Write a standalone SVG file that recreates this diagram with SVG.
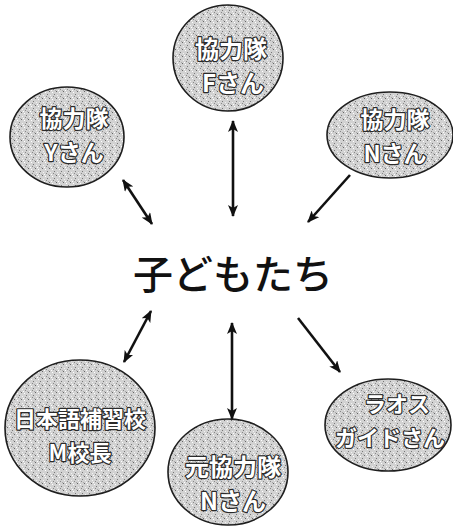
<svg xmlns="http://www.w3.org/2000/svg" width="453" height="529" viewBox="0 0 453 529">
<style>
.node ellipse{fill:url(#stip);stroke:#1e1e1e;stroke-width:1.6}
.node text{font-family:"Noto Sans CJK JP","Noto Sans",sans-serif;font-weight:bold;fill:#fff;stroke:#2a2a2a;stroke-width:2.4;paint-order:stroke;stroke-linejoin:round;text-anchor:middle;dominant-baseline:central}
.center{font-family:"Noto Sans CJK JP","Noto Sans",sans-serif;font-weight:500;font-size:40px;fill:#111;text-anchor:middle;dominant-baseline:central}
#connectors line{stroke:#111;stroke-width:2.6}
</style>
<defs>
<pattern id="stip" width="7" height="7" patternUnits="userSpaceOnUse">
<rect width="7" height="7" fill="#d2d2d2"/>
<rect x="0" y="0" width="1" height="1" fill="#666"/>
<rect x="3" y="1" width="1" height="1" fill="#fff"/>
<rect x="5" y="3" width="1" height="1" fill="#777"/>
<rect x="1" y="4" width="1" height="1" fill="#f2f2f2"/>
<rect x="4" y="5" width="1" height="1" fill="#888"/>
<rect x="2" y="6" width="1" height="1" fill="#fff"/>
<rect x="6" y="6" width="1" height="1" fill="#aaa"/>
</pattern>
<marker id="ah" viewBox="0 0 12 10" refX="11" refY="5" markerWidth="12" markerHeight="10" markerUnits="userSpaceOnUse" orient="auto-start-reverse">
<path d="M0,0 L12,5 L0,10 L3,5 Z" fill="#111"/>
</marker>
</defs>

<g id="connectors">
<line x1="233" y1="121" x2="233" y2="216" marker-start="url(#ah)" marker-end="url(#ah)"/>
<line x1="123" y1="180" x2="152" y2="224" marker-start="url(#ah)" marker-end="url(#ah)"/>
<line x1="350" y1="175" x2="308" y2="222" marker-end="url(#ah)"/>
<line x1="151" y1="311" x2="124" y2="362" marker-start="url(#ah)" marker-end="url(#ah)"/>
<line x1="232" y1="323" x2="232" y2="419" marker-start="url(#ah)" marker-end="url(#ah)"/>
<line x1="298" y1="318" x2="340" y2="372" marker-end="url(#ah)"/>
</g>

<g id="node-f" class="node">
<ellipse cx="228" cy="58" rx="55" ry="53"/>
<text x="231" y="47" font-size="24">協力隊</text>
<text x="233" y="81" font-size="24">Fさん</text>
</g>

<g id="node-y" class="node">
<ellipse cx="67" cy="137" rx="57" ry="50"/>
<text x="74" y="117" font-size="23">協力隊</text>
<text x="74" y="151" font-size="23">Yさん</text>
</g>

<g id="node-n" class="node">
<ellipse cx="390" cy="135" rx="63" ry="43"/>
<text x="395" y="118" font-size="23">協力隊</text>
<text x="395" y="152" font-size="23">Nさん</text>
</g>

<g id="node-center">
<text class="center" x="233" y="272">子どもたち</text>
</g>

<g id="node-m" class="node">
<ellipse cx="80" cy="428" rx="75" ry="68"/>
<text x="80" y="417" font-size="22">日本語補習校</text>
<text x="80" y="451" font-size="22">M校長</text>
</g>

<g id="node-motonn" class="node">
<ellipse cx="228" cy="472" rx="60" ry="53"/>
<text x="233" y="465" font-size="24">元協力隊</text>
<text x="233" y="499" font-size="24">Nさん</text>
</g>

<g id="node-laos" class="node">
<ellipse cx="388" cy="425" rx="63" ry="46"/>
<text x="397" y="402" font-size="22">ラオス</text>
<text x="390" y="436" font-size="22">ガイドさん</text>
</g>
</svg>
